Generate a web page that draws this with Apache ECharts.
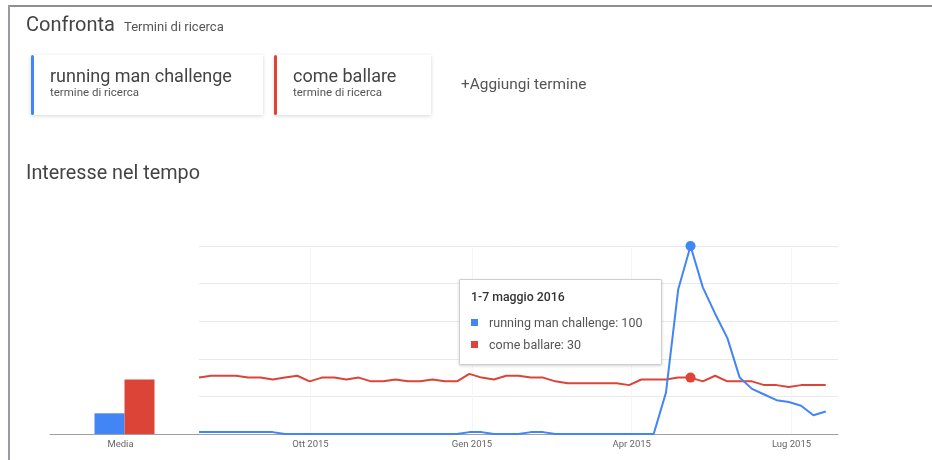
<!DOCTYPE html>
<html><head><meta charset="utf-8">
<script src="https://cdn.jsdelivr.net/npm/echarts@6/dist/echarts.min.js"></script>
<style>html,body{margin:0;padding:0;background:#fff}#c{width:932px;height:460px}</style>
</head><body><div id="c"></div>
<script>
// ---- data ----
const termNames = ['running man challenge', 'come ballare'];
const termSubtitle = 'termine di ricerca';
const weekStarts = [
  '2015-07-26','2015-08-02','2015-08-09','2015-08-16','2015-08-23','2015-08-30',
  '2015-09-06','2015-09-13','2015-09-20','2015-09-27','2015-10-04','2015-10-11',
  '2015-10-18','2015-10-25','2015-11-01','2015-11-08','2015-11-15','2015-11-22',
  '2015-11-29','2015-12-06','2015-12-13','2015-12-20','2015-12-27','2016-01-03',
  '2016-01-10','2016-01-17','2016-01-24','2016-01-31','2016-02-07','2016-02-14',
  '2016-02-21','2016-02-28','2016-03-06','2016-03-13','2016-03-20','2016-03-27',
  '2016-04-03','2016-04-10','2016-04-17','2016-04-24','2016-05-01','2016-05-08',
  '2016-05-15','2016-05-22','2016-05-29','2016-06-05','2016-06-12','2016-06-19',
  '2016-06-26','2016-07-03','2016-07-10','2016-07-17'
];
const runningMan = [
  1,1,1,1,1,1,1,0,0,0,0,0,0,0,0,0,0,0,0,0,0,0,1,1,0,0,0,1,1,0,0,0,0,0,0,0,0,0,
  22,77,100,78,64,51,30,24,21,18,17,15,10,12
];
const comeBallare = [
  30,31,31,31,30,30,29,30,31,28,30,30,29,30,28,28,29,28,28,29,28,28,32,30,29,31,
  31,30,30,28,27,27,27,27,27,26,29,29,29,30,30,28,31,28,28,28,26,26,25,26,26,26
];
const averageLabel = ['Media'];
const runningManAvg = [11];
const comeBallareAvg = [29];
const tickDates = ['2015-10-01','2016-01-01','2016-04-01','2016-07-01'];
const tickLabels = ['Ott 2015','Gen 2015','Apr 2015','Lug 2015'];
const highlightWeek = '2016-05-01';
const monthsIt = ['gennaio','febbraio','marzo','aprile','maggio','giugno','luglio','agosto','settembre','ottobre','novembre','dicembre'];

// ---- derived ----
const BLUE = '#4285f4', RED = '#db4437';
const DAY = 86400000;
const origin = Date.parse(weekStarts[0]);
const weekX = weekStarts.map(d => (Date.parse(d) - origin) / DAY + 3.5);
const tickX = tickDates.map(d => (Date.parse(d) - origin) / DAY);
const hiIdx = weekStarts.indexOf(highlightWeek);
function weekTitle(i) {
  const s = new Date(Date.parse(weekStarts[i]));
  const e = new Date(Date.parse(weekStarts[i]) + 6 * DAY);
  return s.getUTCDate() + '-' + e.getUTCDate() + ' ' + monthsIt[e.getUTCMonth()] + ' ' + e.getUTCFullYear();
}
const FONT = 'Roboto, "Noto Sans", sans-serif';

const chart = echarts.init(document.getElementById('c'), null, {renderer: 'canvas'});

function txt(x, y, text, size, color, weight) {
  return {type: 'text', x: x, y: y, silent: true,
    style: {text: text, fill: color, fontSize: size, fontFamily: FONT, fontWeight: weight || 'normal', verticalAlign: 'middle', align: 'left'}};
}
function card(x, w, color, title, sub) {
  return [
    {type: 'rect', x: x, y: 55, shape: {x: 0, y: 0, width: w, height: 60},
      style: {fill: '#fff', shadowBlur: 4, shadowColor: 'rgba(0,0,0,0.16)', shadowOffsetY: 1}, silent: true},
    {type: 'rect', x: x, y: 55, shape: {x: 0, y: 0, width: 3, height: 60, r: 1.5},
      style: {fill: color}, silent: true},
    txt(x + 19, 77.2, title, 18, '#444'),
    txt(x + 19, 93.2, sub, 11.5, '#555')
  ];
}

const option = {
  animation: false,
  backgroundColor: '#fff',
  textStyle: {fontFamily: FONT},
  graphic: [
    {type: 'line', shape: {x1: 8, y1: 6, x2: 932, y2: 6}, style: {stroke: '#8e8e93', lineWidth: 2}, silent: true},
    {type: 'line', shape: {x1: 9, y1: 5, x2: 9, y2: 460}, style: {stroke: '#9a9aa0', lineWidth: 2}, silent: true},
    txt(26, 25.5, 'Confronta', 20, '#444'),
    txt(124, 28, 'Termini di ricerca', 13, '#555'),
    ...card(31, 232, BLUE, termNames[0], termSubtitle),
    ...card(274, 157, RED, termNames[1], termSubtitle),
    txt(461, 85.5, '+Aggiungi termine', 15.4, '#555'),
    txt(26, 174.5, 'Interesse nel tempo', 19.8, '#444')
  ],
  tooltip: {
    trigger: 'item',
    triggerOn: 'none',
    alwaysShowContent: true,
    transitionDuration: 0,
    position: [459, 279],
    backgroundColor: '#fff',
    borderColor: '#cfcfcf',
    borderWidth: 1,
    padding: [8, 11],
    extraCssText: 'box-shadow:0 1px 3px rgba(0,0,0,0.18);border-radius:1px;width:179px;',
    formatter: function () {
      const i = hiIdx;
      const sq = c => '<span style="display:inline-block;width:7px;height:7px;background:' + c + ';margin-right:11px;vertical-align:1px"></span>';
      return '<div style="font-family:Roboto,sans-serif">' +
        '<div style="font-size:12.3px;font-weight:500;color:#333;line-height:18px">' + weekTitle(i) + '</div>' +
        '<div style="margin-top:6px;font-size:12.5px;color:#555;line-height:22px">' + sq(BLUE) + termNames[0] + ': ' + runningMan[i] + '</div>' +
        '<div style="font-size:12.5px;color:#555;line-height:22px">' + sq(RED) + termNames[1] + ': ' + comeBallare[i] + '</div>' +
        '</div>';
    }
  },
  grid: [
    {left: 50, width: 149, top: 246, bottom: 26},
    {left: 199, right: 94, top: 246, bottom: 26}
  ],
  xAxis: [
    {type: 'category', gridIndex: 0, data: averageLabel,
      axisLine: {lineStyle: {color: '#a0a0a0'}}, axisTick: {show: false},
      axisLabel: {color: '#666', fontSize: 9.5, margin: 6, padding: [0, 8, 0, 0]}},
    {type: 'value', gridIndex: 1, min: weekX[0], max: weekX[0] + 52 * 7,
      axisLine: {show: true, onZero: false, lineStyle: {color: '#a0a0a0'}},
      axisTick: {show: false, customValues: tickX},
      splitLine: {show: true, lineStyle: {color: '#f5f5f5'}},
      axisLabel: {color: '#666', fontSize: 9.5, margin: 6, customValues: tickX,
        formatter: function (v) {
          let best = 0;
          tickX.forEach((t, k) => { if (Math.abs(t - v) < Math.abs(tickX[best] - v)) best = k; });
          return tickLabels[best];
        }}}
  ],
  yAxis: [
    {type: 'value', gridIndex: 0, min: 0, max: 100, interval: 20,
      axisLabel: {show: false}, axisLine: {show: false}, axisTick: {show: false}, splitLine: {show: false}},
    {type: 'value', gridIndex: 1, min: 0, max: 100, interval: 20,
      axisLabel: {show: false}, axisLine: {show: false}, axisTick: {show: false},
      splitLine: {show: true, lineStyle: {color: '#e9e9e9'}}}
  ],
  series: [
    {type: 'bar', name: termNames[0], xAxisIndex: 0, yAxisIndex: 0, data: runningManAvg,
      barWidth: 30, barGap: '0%', itemStyle: {color: BLUE}, silent: true},
    {type: 'bar', name: termNames[1], xAxisIndex: 0, yAxisIndex: 0, data: comeBallareAvg,
      barWidth: 30, barGap: '0%', itemStyle: {color: RED}, silent: true},
    {type: 'line', name: termNames[1], xAxisIndex: 1, yAxisIndex: 1,
      data: weekX.map((x, i) => [x, comeBallare[i]]),
      showSymbol: true, symbol: 'circle',
      symbolSize: (v, p) => p.dataIndex === hiIdx ? 10 : 0,
      lineStyle: {color: RED, width: 2}, itemStyle: {color: RED},
      emphasis: {disabled: true}},
    {type: 'line', name: termNames[0], xAxisIndex: 1, yAxisIndex: 1,
      data: weekX.map((x, i) => [x, runningMan[i]]),
      showSymbol: true, symbol: 'circle',
      symbolSize: (v, p) => p.dataIndex === hiIdx ? 10 : 0,
      lineStyle: {color: BLUE, width: 2}, itemStyle: {color: BLUE},
      emphasis: {disabled: true}}
  ]
};
chart.setOption(option);
chart.dispatchAction({type: 'showTip', seriesIndex: 3, dataIndex: hiIdx});
</script>
</body></html>
